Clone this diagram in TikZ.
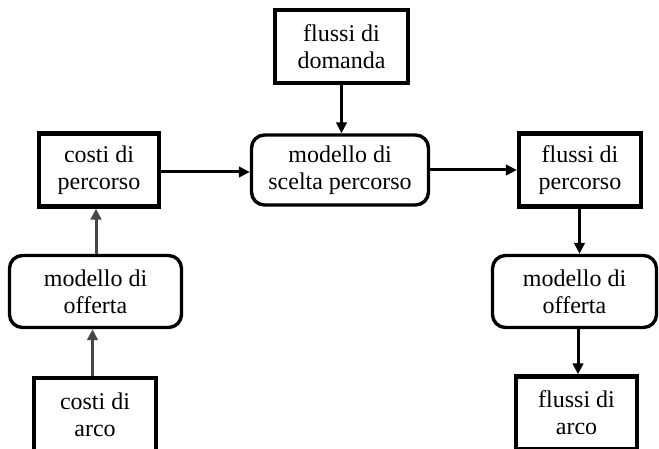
\documentclass[tikz,border=0pt]{standalone}
\usepackage{fontspec}
\setmainfont{Liberation Serif}
\usetikzlibrary{arrows.meta}
\begin{document}
\begin{tikzpicture}[x=1pt,y=-1pt,
  txt/.style={font=\fontsize{24}{27}\selectfont, align=center, inner sep=0pt},
  sqbox/.style={txt, draw, line width=4.3pt, rectangle},
  rdbox/.style={txt, draw, line width=3.4pt, rectangle, rounded corners=13pt},
  arr/.style={line width=3pt, -{Triangle[length=11pt,width=10.5pt]}},
  garr/.style={arr, draw=black!72}
]
\useasboundingbox (0,0) rectangle (659,449);
\fill[white] (0,0) rectangle (659,449);
\clip (0,0) rectangle (659,449);

\node[sqbox, minimum width=133pt, minimum height=73pt] (dom) at (341.5,46.5) {flussi di\\domanda};
\node[sqbox, minimum width=120pt, minimum height=73pt] (cp) at (99,170) {costi di\\percorso};
\node[rdbox, minimum width=177pt, minimum height=70pt] (sc) at (340,170) {modello di\\scelta percorso};
\node[sqbox, minimum width=122pt, minimum height=73pt] (fp) at (580,170) {flussi di\\percorso};
\node[rdbox, minimum width=172pt, minimum height=72pt] (ol) at (95.5,291.5) {modello di\\offerta};
\node[rdbox, minimum width=164pt, minimum height=72pt] (or) at (574.5,291.5) {modello di\\offerta};
\node[sqbox, minimum width=122pt, minimum height=73pt] (ca) at (95,414.5) {costi di\\arco};
\node[sqbox, minimum width=121pt, minimum height=73pt] (fa) at (576.5,413) {flussi di\\arco};

\draw[arr] (dom.south) -- (dom.south |- sc.north);
\draw[arr] ([yshift=-2pt]cp.east) -- ([yshift=-2pt]cp.east -| sc.west);
\draw[arr] (sc.east) -- (sc.east -| fp.west);
\draw[arr] ([xshift=-0.5pt]fp.south) -- ([xshift=-0.5pt]fp.south |- or.north);
\draw[arr] ([xshift=-2pt]or.south -| fp.south) -- ([xshift=-2pt]fa.north -| fp.south);
\draw[garr] ([xshift=-3pt]cp.south |- ol.north) -- ([xshift=-3pt]cp.south);
\draw[garr] ([xshift=-2.5pt]ca.north) -- ([xshift=-2.5pt]ca.north |- ol.south);
\end{tikzpicture}
\end{document}
